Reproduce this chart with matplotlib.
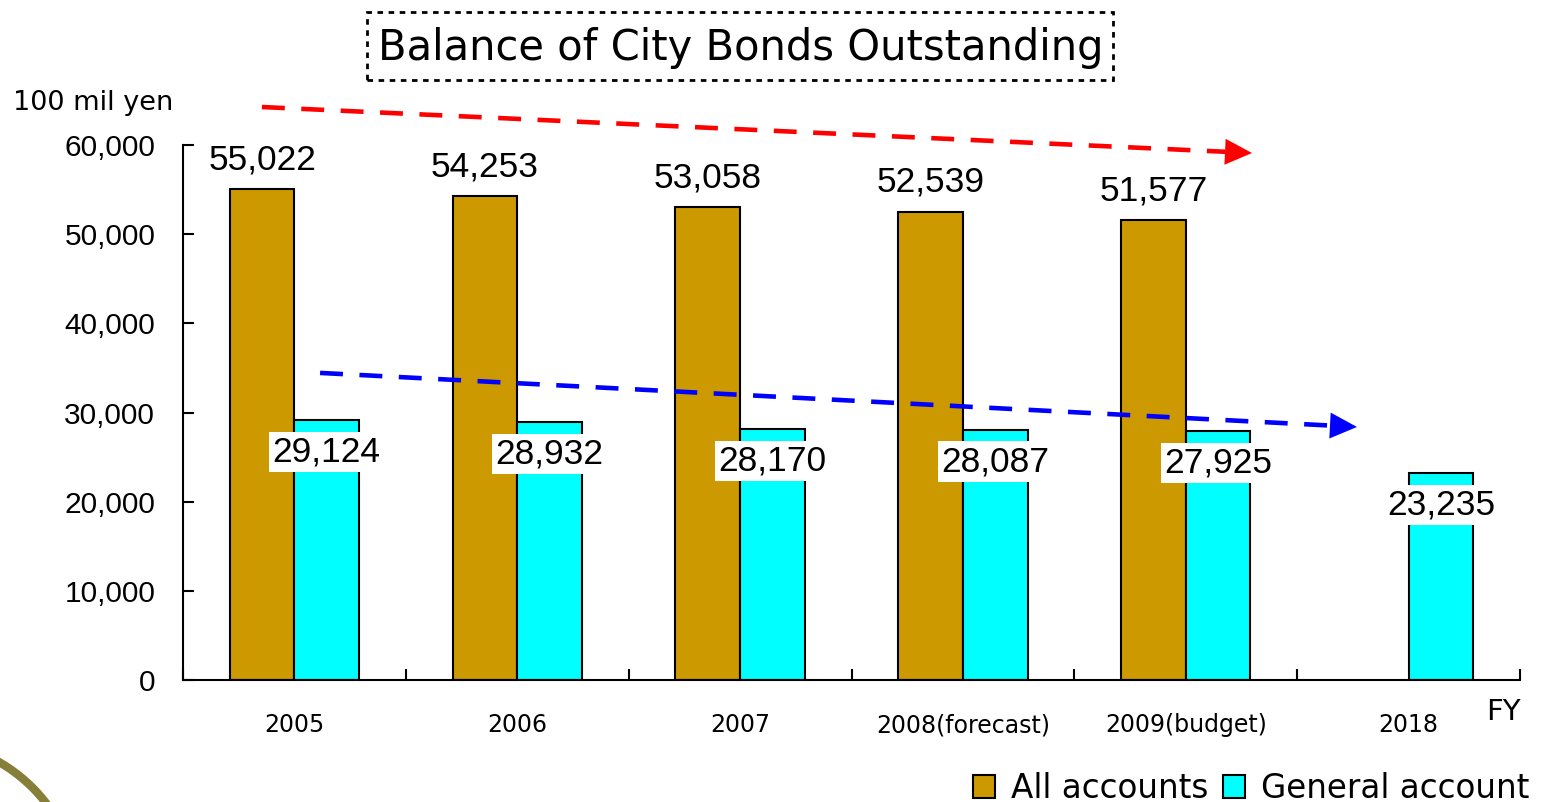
"""
Balance of City Bonds Outstanding
"""

import numpy as np
import matplotlib.pyplot as plt
from matplotlib.patches import Arc, Rectangle, Polygon

plt.rcParams['font.family'] = ['Liberation Sans', 'DejaVu Sans']
WIDE = ['DejaVu Sans']

# Values (100 mil yen)
YEARS = ["2005", "2006", "2007", "2008(forecast)", "2009(budget)", "2018"]
ALL_ACCOUNTS = [55022, 54253, 53058, 52539, 51577, np.nan]
GENERAL_ACCOUNT = [29124, 28932, 28170, 28087, 27925, 23235]

GOLD = "#CC9900"
CYAN = "#00FFFF"


def trend_arrow(fig, ax, start, tip, color):
    """Dashed line in axes fraction with a solid triangular head (sizes in pixels)"""
    to_px = ax.transAxes.transform
    p0, p1 = to_px(start), to_px(tip)
    d = (p1 - p0) / np.hypot(*(p1 - p0))
    n = np.array([-d[1], d[0]])
    base = p1 - 27 * d
    back = ax.transAxes.inverted().transform
    b = back(base)
    ax.plot([start[0], b[0]], [start[1], b[1]], transform=ax.transAxes, color=color,
            lw=3.3, dashes=(5, 3.6), clip_on=False)
    head = [p1, base + 13 * n, base - 13 * n]
    fig.patches.append(Polygon(head, closed=True, transform=None, fc=color, ec="none"))


def make_chart():
    fig = plt.figure(figsize=(15.47, 8.02), dpi=100)
    ax = fig.add_axes([0.1183, 0.1521, 0.8643, 0.6671])

    x = np.arange(len(YEARS))
    w = 0.29
    ax.bar(x - w / 2, ALL_ACCOUNTS, w, color=GOLD, edgecolor="black", lw=1.5,
           label="All accounts")
    ax.bar(x + w / 2, GENERAL_ACCOUNT, w, color=CYAN, edgecolor="black", lw=1.5,
           label="General account")

    # value labels
    for xi, v in zip(x, ALL_ACCOUNTS):
        if np.isnan(v):
            continue
        ax.annotate(f"{v:,.0f}", (xi - w / 2, v), xytext=(0, 21), textcoords="offset points",
                    ha="center", va="center", fontsize=25.5)
    for xi, v in zip(x, GENERAL_ACCOUNT):
        ax.annotate(f"{v:,.0f}", (xi + w / 2, v), xytext=(0, -23), textcoords="offset points",
                    ha="center", va="center", fontsize=25.5,
                    bbox=dict(boxstyle="square,pad=0.1", fc="white", ec="none"))

    ax.set_xlim(-0.5, len(YEARS) - 0.5)
    ax.set_ylim(0, 60000)
    ax.set_yticks(np.arange(0, 60001, 10000))
    ax.set_yticklabels([f"{t:,}" for t in range(0, 60001, 10000)], fontsize=21.5)
    ax.tick_params(axis="y", direction="in", length=8, width=1.5, pad=20)

    # boundary ticks (unlabelled) and centred category labels
    ax.set_xticks(np.arange(-0.5, len(YEARS), 1.0))
    ax.set_xticklabels([])
    ax.set_xticks(x, minor=True)
    ax.set_xticklabels(YEARS, minor=True, fontsize=17, family=WIDE)
    ax.tick_params(axis="x", which="major", direction="in", length=8, width=1.5)
    ax.tick_params(axis="x", which="minor", length=0, pad=24)

    for s in ("top", "right"):
        ax.spines[s].set_visible(False)
    for s in ("left", "bottom"):
        ax.spines[s].set_linewidth(1.5)

    # trend arrows
    trend_arrow(fig, ax, (0.059, 1.071), (0.7995, 0.985), "#FF0000")
    trend_arrow(fig, ax, (0.1025, 0.574), (0.878, 0.473), "#0000FF")

    # title in dotted box
    fig.text(0.479, 0.94, "Balance of City Bonds Outstanding", ha="center", va="center",
             fontsize=30, family=WIDE)
    fig.patches.append(Rectangle((367 / 1547, 1 - 80 / 802), 746 / 1547, 68 / 802,
                                 transform=fig.transFigure, fill=False, ec="black",
                                 lw=2, linestyle=(0, (2, 2))))

    fig.text(13 / 1547, 1 - 103 / 802, "100 mil yen", ha="left", va="center",
             fontsize=19.5, family=WIDE)
    fig.text(1503 / 1547, 1 - 712 / 802, "FY", ha="center", va="center", fontsize=21,
             family=WIDE)

    fig.legend(loc="lower right", bbox_to_anchor=(0.997, -0.02), ncol=2, frameon=False,
               prop={"family": WIDE, "size": 23.5}, handlelength=0.67, handleheight=0.67,
               handletextpad=0.5, columnspacing=0.43, borderaxespad=0)

    # olive corner decoration
    fig.patches.append(Arc((-0.8, -0.98), 3.18, 3.18, theta1=0, theta2=90,
                           transform=fig.dpi_scale_trans, color="#857F3A", lw=6))

    fig.savefig("out.png", dpi=100)


make_chart()
